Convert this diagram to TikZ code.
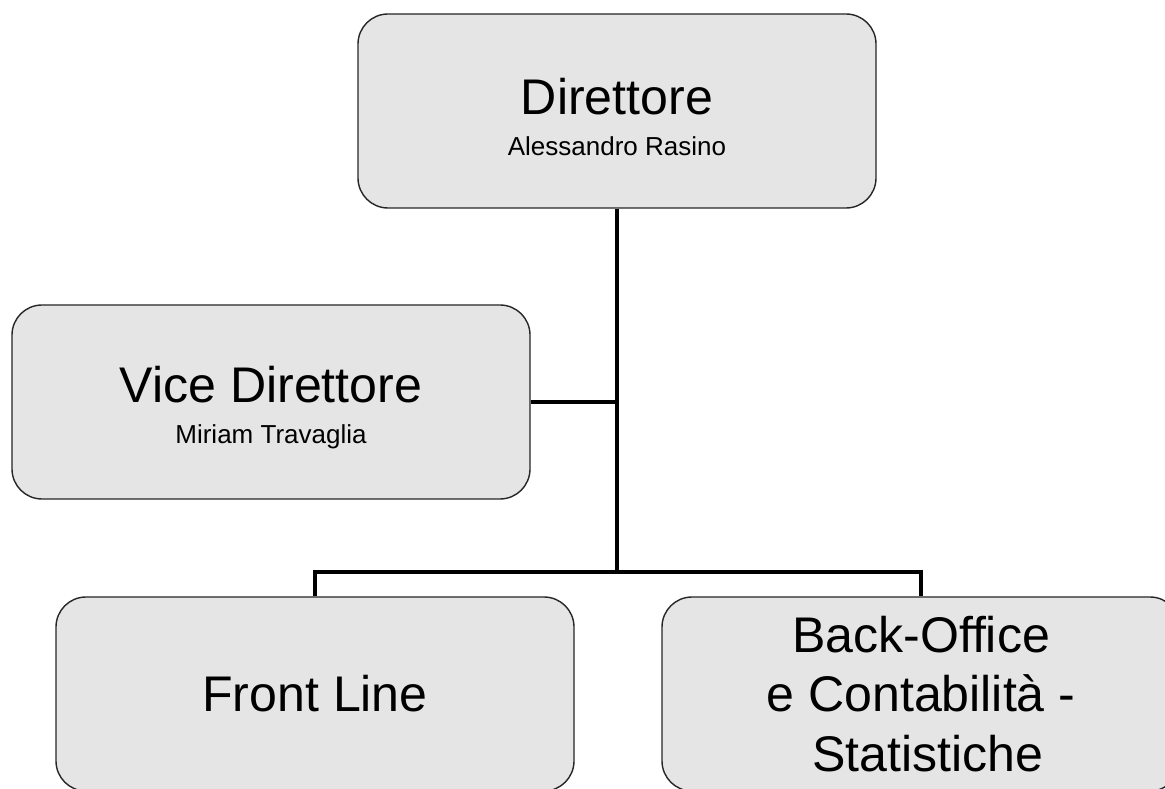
\documentclass[tikz,border=0pt]{standalone}
\usepackage{fontspec}
\setmainfont{Liberation Sans}
\usetikzlibrary{positioning}

\tikzset{
  box/.style={draw=black!85, fill=black!10, line width=0.8pt, rounded corners=0.6cm,
    minimum width=10.36cm, minimum height=3.88cm, inner sep=0pt, align=center,
    font=\fontsize{28.5}{29.6}\selectfont},
  link/.style={line width=2.8pt, black, line join=miter},
}
\newcommand{\namefont}{\fontsize{14.8}{17}\selectfont}

\begin{document}
\begin{tikzpicture}
\useasboundingbox (0,0) rectangle (23.3,15.76);
%boxes
\node[box](dir) at (12.34,13.54){\rule{0pt}{27pt}Direttore\\[-6.3pt]{\namefont Alessandro Rasino}};
\node[box](vice) at (5.42,7.72){\rule{0pt}{27pt}Vice Direttore\\[-6.3pt]{\namefont Miriam Travaglia}};
\node[box](front) at (6.3,1.88){Front Line};
\node[box, font=\fontsize{28.5}{34}\selectfont](back) at (18.42,1.88){Back-Office\\e Contabilità -\\~Statistiche};
%lines
\coordinate (fork) at (12.34,4.32);
\draw[link] (dir.south) -- (fork);
\draw[link] (vice.east) -- (vice.east -| fork);
\draw[link] (front.north) |- (fork) -| (back.north);
\end{tikzpicture}
\end{document}
